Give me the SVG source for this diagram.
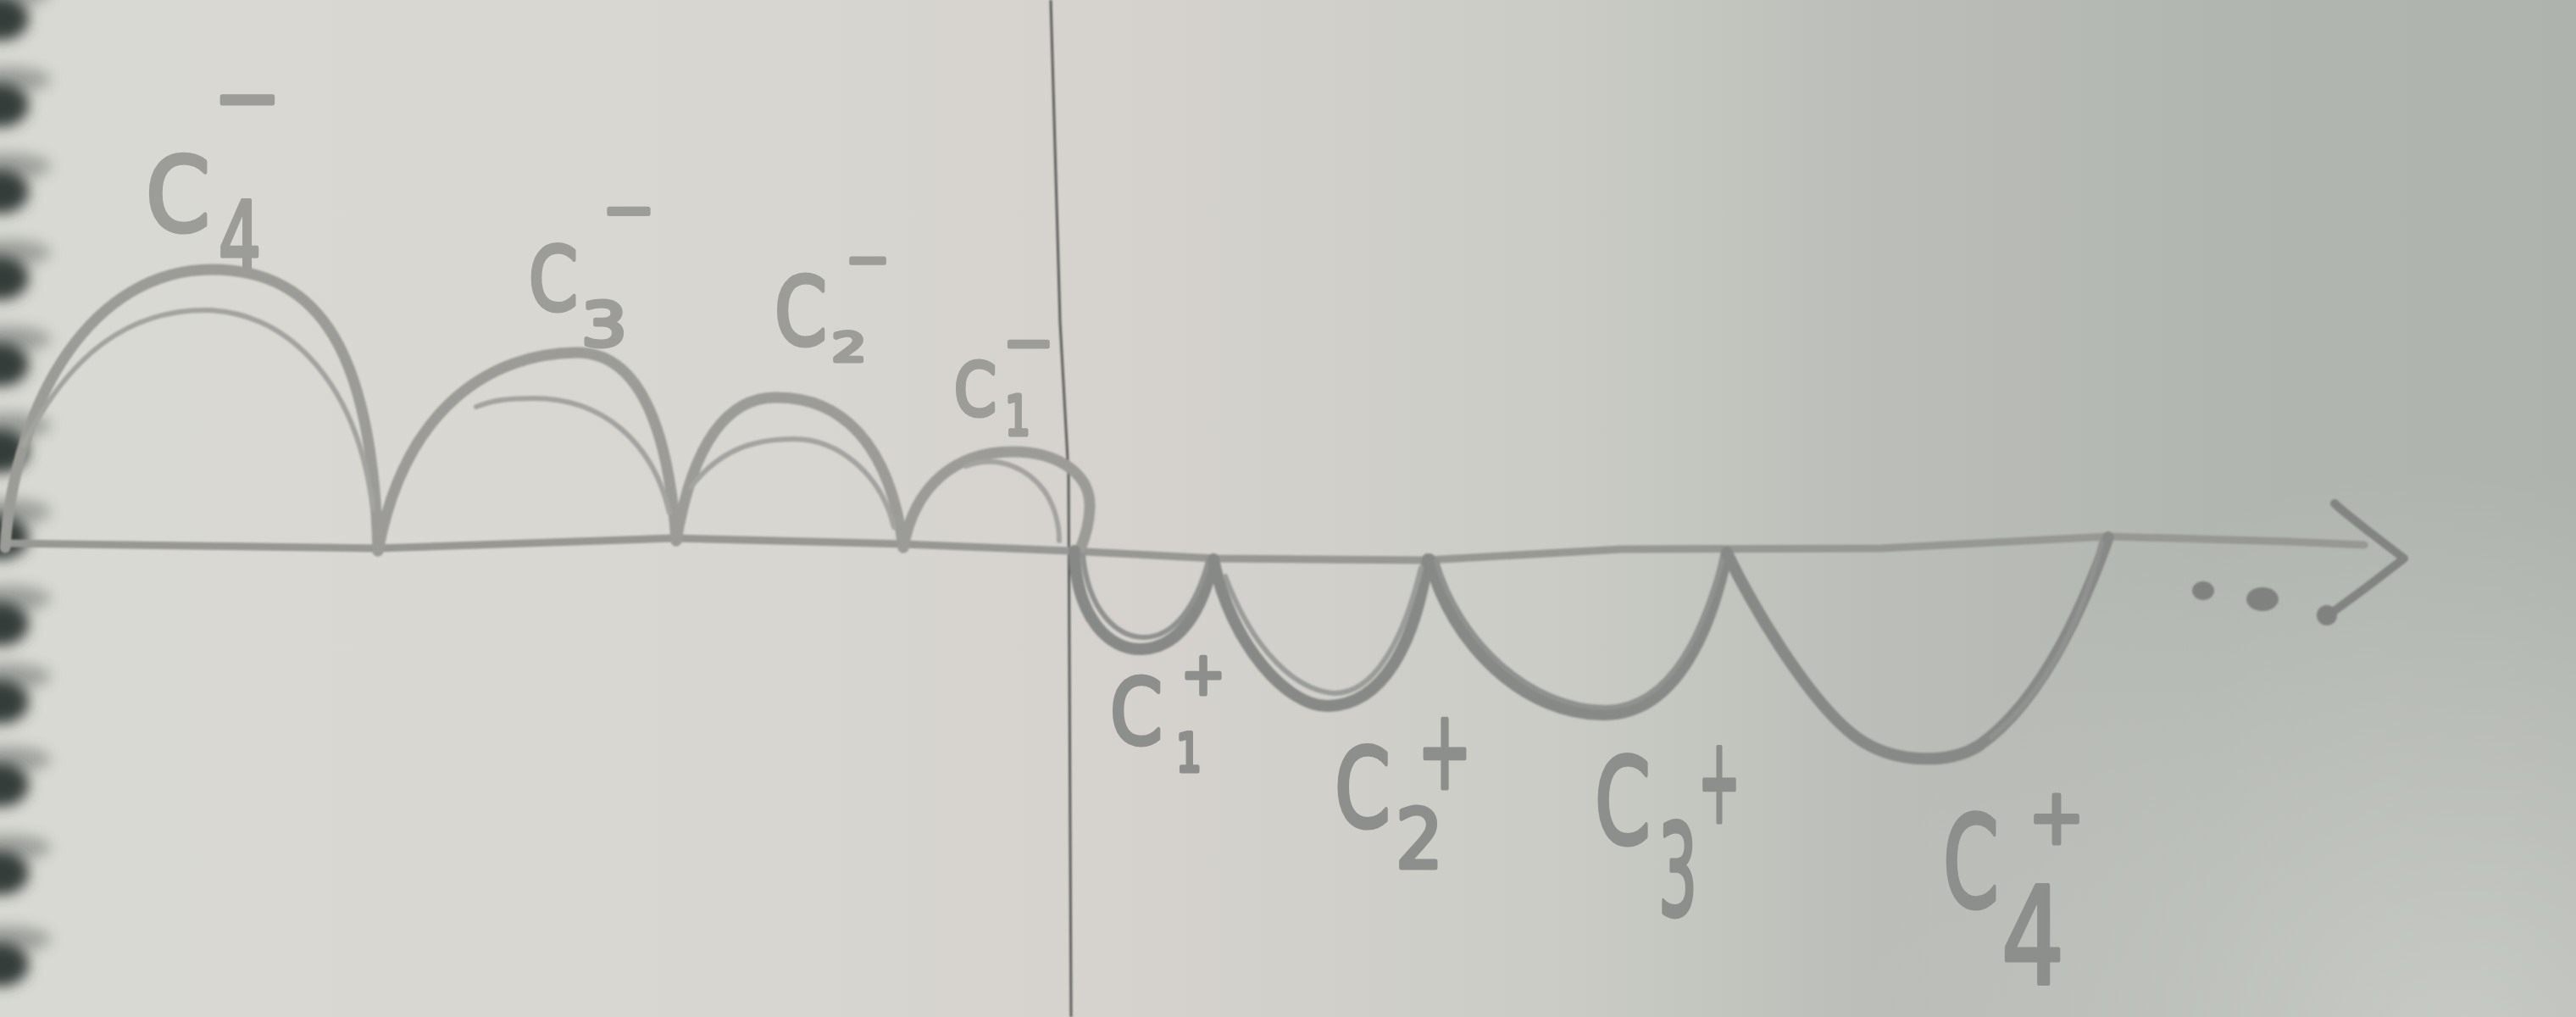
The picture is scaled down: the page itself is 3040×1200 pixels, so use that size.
<svg xmlns="http://www.w3.org/2000/svg" width="3040" height="1200" viewBox="0 0 3040 1200">
  <defs>
    <linearGradient id="paper" x1="0" y1="0" x2="3040" y2="0" gradientUnits="userSpaceOnUse">
      <stop offset="0" stop-color="#d9d9d3"/>
      <stop offset="0.3" stop-color="#d8d6d1"/>
      <stop offset="0.45" stop-color="#d5d2ce"/>
      <stop offset="0.6" stop-color="#cbccc6"/>
      <stop offset="0.72" stop-color="#bcbfb9"/>
      <stop offset="0.86" stop-color="#b2b6b0"/>
      <stop offset="1" stop-color="#afb3ad"/>
    </linearGradient>
    <radialGradient id="glow" cx="2900" cy="1250" r="700" gradientUnits="userSpaceOnUse">
      <stop offset="0" stop-color="#d2d5cf" stop-opacity="0.7"/>
      <stop offset="1" stop-color="#d2d5cf" stop-opacity="0"/>
    </radialGradient>
    <filter id="blur" x="-1" y="-1" width="3" height="3">
      <feGaussianBlur stdDeviation="8"/>
    </filter>
    <filter id="soft" x="-0.1" y="-0.1" width="1.2" height="1.2">
      <feGaussianBlur stdDeviation="1.2"/>
    </filter>
  </defs>
  <style>
    .up { fill: none; stroke: #9b9b97; stroke-width: 13; stroke-linecap: round; stroke-linejoin: round; }
    .upi { fill: none; stroke: #a3a3a0; stroke-width: 6; stroke-linecap: round; }
    .dn { fill: none; stroke: #868986; stroke-width: 14; stroke-linecap: round; stroke-linejoin: round; }
    .dni { fill: none; stroke: #8f928f; stroke-width: 6; stroke-linecap: round; }
    .axis { fill: none; stroke: #979894; stroke-width: 9; stroke-linecap: round; stroke-linejoin: round; }
    .vline { fill: none; stroke: #5c5e5c; stroke-width: 3; }
    .lab { font-family: "DejaVu Sans", sans-serif; fill: #9c9c98; stroke: #9c9c98; stroke-width: 5; stroke-linejoin: round; }
    .labd { font-family: "DejaVu Sans", sans-serif; fill: #8c8f8c; stroke: #8c8f8c; stroke-width: 5; stroke-linejoin: round; }
    .ring { fill: #363c3a; filter: url(#blur); }
    .ringsh { fill: #5b625f; opacity: 0.45; filter: url(#blur); }
    .dot { fill: #7f827f; }
  </style>

  <rect id="paper-bg" x="0" y="0" width="3040" height="1200" fill="url(#paper)"/>
  <rect id="paper-light" x="0" y="0" width="3040" height="1200" fill="url(#glow)"/>

  <g id="binding">
    <ellipse class="ringsh" cx="10" cy="-8" rx="50" ry="16"/>
    <ellipse class="ring" cx="0" cy="22" rx="34" ry="26"/>
    <ellipse class="ringsh" cx="10" cy="94" rx="50" ry="16"/>
    <ellipse class="ring" cx="0" cy="124" rx="34" ry="26"/>
    <ellipse class="ringsh" cx="10" cy="196" rx="50" ry="16"/>
    <ellipse class="ring" cx="0" cy="226" rx="34" ry="26"/>
    <ellipse class="ringsh" cx="10" cy="298" rx="50" ry="16"/>
    <ellipse class="ring" cx="0" cy="328" rx="34" ry="26"/>
    <ellipse class="ringsh" cx="10" cy="400" rx="50" ry="16"/>
    <ellipse class="ring" cx="0" cy="430" rx="34" ry="26"/>
    <ellipse class="ringsh" cx="10" cy="502" rx="50" ry="16"/>
    <ellipse class="ring" cx="0" cy="532" rx="34" ry="26"/>
    <ellipse class="ringsh" cx="10" cy="604" rx="50" ry="16"/>
    <ellipse class="ring" cx="0" cy="634" rx="34" ry="26"/>
    <ellipse class="ringsh" cx="10" cy="706" rx="50" ry="16"/>
    <ellipse class="ring" cx="0" cy="736" rx="34" ry="26"/>
    <ellipse class="ringsh" cx="10" cy="798" rx="50" ry="16"/>
    <ellipse class="ring" cx="0" cy="828" rx="34" ry="26"/>
    <ellipse class="ringsh" cx="10" cy="896" rx="50" ry="16"/>
    <ellipse class="ring" cx="0" cy="926" rx="34" ry="26"/>
    <ellipse class="ringsh" cx="10" cy="1000" rx="50" ry="16"/>
    <ellipse class="ring" cx="0" cy="1030" rx="34" ry="26"/>
    <ellipse class="ringsh" cx="10" cy="1108" rx="50" ry="16"/>
    <ellipse class="ring" cx="0" cy="1138" rx="34" ry="26"/>
  </g>

  <g id="connectors" filter="url(#soft)">
    <path id="vertical-axis" class="vline" d="M 1240,0 L 1251,380 L 1261,560 L 1264,1200"/>
    <path id="horizontal-axis" class="axis" d="M 8,641 L 446,647 L 795,635 L 1066,642 L 1262,650 L 1435,659 L 1683,661 L 1914,648 L 2220,647 L 2488,633 L 2700,639 L 2790,643"/>
    <path id="arrowhead" class="axis" style="stroke:#818481;stroke-width:10" d="M 2755,594 C 2772,610 2805,634 2837,659 L 2790,695 L 2745,728"/>
    <ellipse class="dot" cx="2600" cy="697" rx="13" ry="11"/>
    <ellipse class="dot" cx="2670" cy="707" rx="19" ry="14"/>
    <circle class="dot" cx="2746" cy="726" r="12"/>

    <path class="up" d="M 6,646 C 18,470 110,318 250,318 C 380,318 440,420 446,650"/>
    <path class="upi" d="M 28,525 C 80,420 150,366 242,366 C 330,366 420,440 440,600"/>
    <path class="up" d="M 446,650 C 478,480 580,417 680,416 C 760,415 790,520 798,638"/>
    <path class="upi" d="M 562,480 C 582,472 600,470 630,470 C 710,470 770,520 790,605"/>
    <path class="up" d="M 798,638 C 818,520 860,469 915,469 C 990,468 1050,520 1066,646"/>
    <path class="upi" d="M 815,575 C 850,530 890,518 937,518 C 990,518 1040,560 1055,622"/>
    <path class="up" d="M 1066,646 C 1080,570 1130,533 1195,533 C 1250,533 1288,560 1286,600 C 1285,620 1280,635 1276,645"/>
    <path class="upi" d="M 1140,550 C 1180,535 1215,555 1233,580 C 1245,598 1250,620 1250,638"/>

    <path class="dn" d="M 1268,650 C 1270,730 1310,768 1348,766 C 1392,764 1420,720 1432,660"/>
    <path class="dni" d="M 1278,655 C 1284,720 1318,752 1350,752 C 1385,752 1412,715 1426,662"/>
    <path class="dn" d="M 1432,660 C 1452,760 1520,835 1568,833 C 1632,831 1670,760 1685,660"/>
    <path class="dni" style="stroke:#9a9c99" d="M 1446,680 C 1480,770 1530,815 1575,818 C 1620,818 1655,760 1677,670"/>
    <path class="dn" d="M 1687,660 C 1712,760 1800,845 1895,843 C 1980,841 2020,740 2038,652"/>
    <path class="dni" d="M 1695,662 C 1722,755 1805,835 1895,835 C 1975,833 2012,738 2034,656"/>
    <path class="dn" d="M 2038,652 C 2062,705 2140,840 2200,876 C 2240,900 2300,902 2335,880 C 2400,835 2450,740 2488,634"/>
    <path class="dni" d="M 2480,640 C 2455,740 2410,820 2350,870"/>
  </g>

  <g id="label-c4-minus">
    <text class="lab"><tspan x="172" y="272" font-size="122" textLength="76" lengthAdjust="spacingAndGlyphs">C</tspan><tspan x="252" y="149" font-size="100" textLength="80" lengthAdjust="spacingAndGlyphs">−</tspan><tspan x="258" y="322" font-size="118" textLength="50" lengthAdjust="spacingAndGlyphs">4</tspan></text>
  </g>
  <g id="label-c3-minus">
    <text class="lab"><tspan x="624" y="366" font-size="104" textLength="58" lengthAdjust="spacingAndGlyphs">C</tspan><tspan x="711" y="273" font-size="75" textLength="62" lengthAdjust="spacingAndGlyphs">−</tspan><tspan x="686" y="408" font-size="72" textLength="54" lengthAdjust="spacingAndGlyphs">3</tspan></text>
  </g>
  <g id="label-c2-minus">
    <text class="lab"><tspan x="914" y="406" font-size="110" textLength="62" lengthAdjust="spacingAndGlyphs">C</tspan><tspan x="998" y="328" font-size="65" textLength="52" lengthAdjust="spacingAndGlyphs">−</tspan><tspan x="982" y="426" font-size="46" textLength="40" lengthAdjust="spacingAndGlyphs">2</tspan></text>
  </g>
  <g id="label-c1-minus">
    <text class="lab"><tspan x="1126" y="490" font-size="86" textLength="50" lengthAdjust="spacingAndGlyphs">C</tspan><tspan x="1184" y="428" font-size="70" textLength="60" lengthAdjust="spacingAndGlyphs">−</tspan><tspan x="1186" y="513" font-size="64" textLength="30" lengthAdjust="spacingAndGlyphs">1</tspan></text>
  </g>

  <g id="label-c1-plus">
    <text class="labd"><tspan x="1310" y="877" font-size="107" textLength="62" lengthAdjust="spacingAndGlyphs">C</tspan><tspan x="1394" y="819" font-size="70" textLength="52" lengthAdjust="spacingAndGlyphs">+</tspan><tspan x="1388" y="910" font-size="62" textLength="30" lengthAdjust="spacingAndGlyphs">1</tspan></text>
  </g>
  <g id="label-c2-plus">
    <text class="labd"><tspan x="1575" y="975" font-size="128" textLength="66" lengthAdjust="spacingAndGlyphs">C</tspan><tspan x="1673" y="930" font-size="130" textLength="64" lengthAdjust="spacingAndGlyphs">+</tspan><tspan x="1647" y="1024" font-size="97" textLength="56" lengthAdjust="spacingAndGlyphs">2</tspan></text>
  </g>
  <g id="label-c3-plus">
    <text class="labd"><tspan x="1882" y="995" font-size="140" textLength="66" lengthAdjust="spacingAndGlyphs">C</tspan><tspan x="2004" y="970" font-size="140" textLength="50" lengthAdjust="spacingAndGlyphs">+</tspan><tspan x="1957" y="1080" font-size="150" textLength="46" lengthAdjust="spacingAndGlyphs">3</tspan></text>
  </g>
  <g id="label-c4-plus">
    <text class="labd"><tspan x="2293" y="1070" font-size="150" textLength="66" lengthAdjust="spacingAndGlyphs">C</tspan><tspan x="2394" y="995" font-size="90" textLength="66" lengthAdjust="spacingAndGlyphs">+</tspan><tspan x="2362" y="1160" font-size="158" textLength="74" lengthAdjust="spacingAndGlyphs">4</tspan></text>
  </g>
</svg>
